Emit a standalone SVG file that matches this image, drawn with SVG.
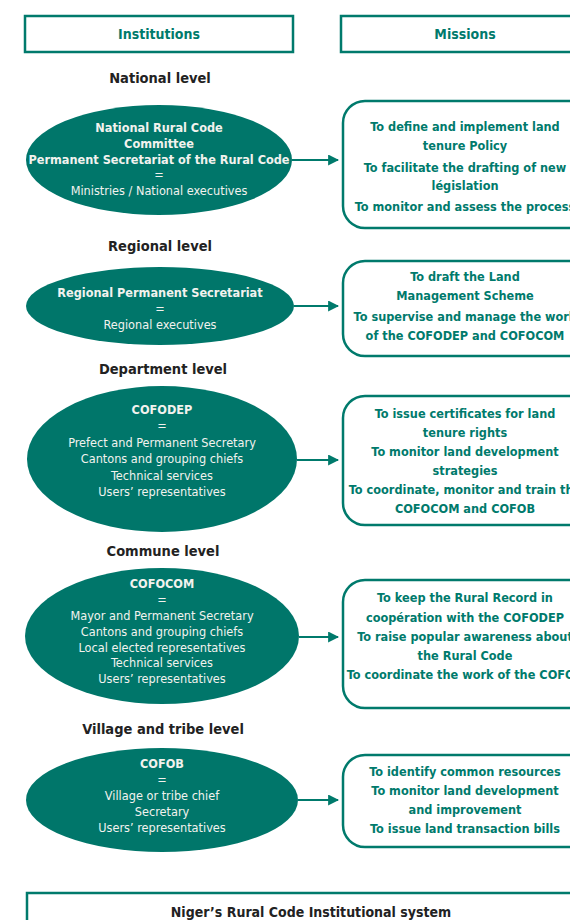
<svg xmlns="http://www.w3.org/2000/svg" width="570" height="920" viewBox="0 0 570 920">
<style>
text{font-family:"DejaVu Sans Condensed","Liberation Sans Narrow","Liberation Sans",sans-serif;text-anchor:middle}
.hdr{fill:#fff;stroke:#007a6c;stroke-width:2.5}
.hdrt{fill:#007a6c;font-weight:bold;font-size:14px}
.lvl{fill:#222;font-weight:bold;font-size:14.5px}
.ell{fill:#00766a}
.et{fill:#f2f2ee;font-size:12.6px}
.eb{font-weight:bold}
.mbox{fill:#fff;stroke:#007a6c;stroke-width:2.5}
.mt{fill:#007a6c;font-weight:bold;font-size:12.6px}
.conn{stroke:#007a6c;stroke-width:2;fill:none}
</style>
<defs>
<marker id="ah" viewBox="0 0 10 10" refX="9" refY="5" markerWidth="5.5" markerHeight="5.5" orient="auto" markerUnits="strokeWidth">
<path d="M0,0 L10,5 L0,10 z" fill="#007a6c"/>
</marker>
</defs>
<rect width="570" height="920" fill="#fff"/>

<g id="hdr-institutions"><rect class="hdr" x="25" y="16" width="268" height="36"/><text class="hdrt" x="159" y="39">Institutions</text></g>
<g id="hdr-missions"><rect class="hdr" x="341" y="16" width="250" height="36"/><text class="hdrt" x="465" y="39">Missions</text></g>

<g id="lvl-national"><text class="lvl" x="160" y="83">National level</text></g>
<g id="inst-national">
<ellipse class="ell" cx="159" cy="160" rx="133" ry="55"/>
<text class="et eb" x="159" y="132">National Rural Code</text>
<text class="et eb" x="159" y="148">Committee</text>
<text class="et eb" x="159" y="164">Permanent Secretariat of the Rural Code</text>
<text class="et" x="159" y="179">=</text>
<text class="et" x="159" y="195">Ministries / National executives</text>
</g>
<g id="mis-national">
<rect class="mbox" x="343" y="101" width="250" height="127" rx="22"/>
<text class="mt" x="465" y="131">To define and implement land</text>
<text class="mt" x="465" y="150">tenure Policy</text>
<text class="mt" x="465" y="172">To facilitate the drafting of new</text>
<text class="mt" x="465" y="190">législation</text>
<text class="mt" x="465" y="211">To monitor and assess the process</text>
</g>

<g id="lvl-regional"><text class="lvl" x="160" y="251">Regional level</text></g>
<g id="inst-regional">
<ellipse class="ell" cx="160" cy="306" rx="134" ry="39"/>
<text class="et eb" x="160" y="297">Regional Permanent Secretariat</text>
<text class="et" x="160" y="313">=</text>
<text class="et" x="160" y="329">Regional executives</text>
</g>
<g id="mis-regional">
<rect class="mbox" x="343" y="261" width="250" height="95" rx="22"/>
<text class="mt" x="465" y="281">To draft the Land</text>
<text class="mt" x="465" y="300">Management Scheme</text>
<text class="mt" x="465" y="321">To supervise and manage the work</text>
<text class="mt" x="465" y="340">of the COFODEP and COFOCOM</text>
</g>

<g id="lvl-department"><text class="lvl" x="163" y="374">Department level</text></g>
<g id="inst-department">
<ellipse class="ell" cx="162" cy="459" rx="135" ry="73"/>
<text class="et eb" x="162" y="414">COFODEP</text>
<text class="et" x="162" y="430">=</text>
<text class="et" x="162" y="447">Prefect and Permanent Secretary</text>
<text class="et" x="162" y="463">Cantons and grouping chiefs</text>
<text class="et" x="162" y="480">Technical services</text>
<text class="et" x="162" y="496">Users’ representatives</text>
</g>
<g id="mis-department">
<rect class="mbox" x="343" y="396" width="250" height="129" rx="22"/>
<text class="mt" x="465" y="418">To issue certificates for land</text>
<text class="mt" x="465" y="437">tenure rights</text>
<text class="mt" x="465" y="456">To monitor land development</text>
<text class="mt" x="465" y="475">strategies</text>
<text class="mt" x="465" y="494">To coordinate, monitor and train the</text>
<text class="mt" x="465" y="513">COFOCOM and COFOB</text>
</g>

<g id="lvl-commune"><text class="lvl" x="163" y="556">Commune level</text></g>
<g id="inst-commune">
<ellipse class="ell" cx="162" cy="636" rx="137" ry="68"/>
<text class="et eb" x="162" y="588">COFOCOM</text>
<text class="et" x="162" y="604">=</text>
<text class="et" x="162" y="620">Mayor and Permanent Secretary</text>
<text class="et" x="162" y="636">Cantons and grouping chiefs</text>
<text class="et" x="162" y="652">Local elected representatives</text>
<text class="et" x="162" y="667">Technical services</text>
<text class="et" x="162" y="683">Users’ representatives</text>
</g>
<g id="mis-commune">
<rect class="mbox" x="343" y="580" width="250" height="128" rx="22"/>
<text class="mt" x="465" y="602">To keep the Rural Record in</text>
<text class="mt" x="465" y="622">coopération with the COFODEP</text>
<text class="mt" x="465" y="641">To raise popular awareness about</text>
<text class="mt" x="465" y="660">the Rural Code</text>
<text class="mt" x="465" y="679">To coordinate the work of the COFOB</text>
</g>

<g id="lvl-village"><text class="lvl" x="163" y="734">Village and tribe level</text></g>
<g id="inst-village">
<ellipse class="ell" cx="162" cy="800" rx="136" ry="52"/>
<text class="et eb" x="162" y="768">COFOB</text>
<text class="et" x="162" y="784">=</text>
<text class="et" x="162" y="800">Village or tribe chief</text>
<text class="et" x="162" y="816">Secretary</text>
<text class="et" x="162" y="832">Users’ representatives</text>
</g>
<g id="mis-village">
<rect class="mbox" x="343" y="755" width="250" height="92" rx="22"/>
<text class="mt" x="465" y="776">To identify common resources</text>
<text class="mt" x="465" y="795">To monitor land development</text>
<text class="mt" x="465" y="814">and improvement</text>
<text class="mt" x="465" y="833">To issue land transaction bills</text>
</g>

<g id="footer">
<rect class="hdr" x="27" y="893" width="570" height="60"/>
<text x="311" y="917" style="fill:#222;font-weight:bold;font-size:14px">Niger’s Rural Code Institutional system</text>
</g>

<g id="connectors">
<line class="conn" x1="292" y1="160" x2="338" y2="160" marker-end="url(#ah)"/>
<line class="conn" x1="294" y1="306" x2="338" y2="306" marker-end="url(#ah)"/>
<line class="conn" x1="297" y1="460" x2="338" y2="460" marker-end="url(#ah)"/>
<line class="conn" x1="299" y1="637" x2="338" y2="637" marker-end="url(#ah)"/>
<line class="conn" x1="298" y1="800" x2="338" y2="800" marker-end="url(#ah)"/>
</g>
</svg>
